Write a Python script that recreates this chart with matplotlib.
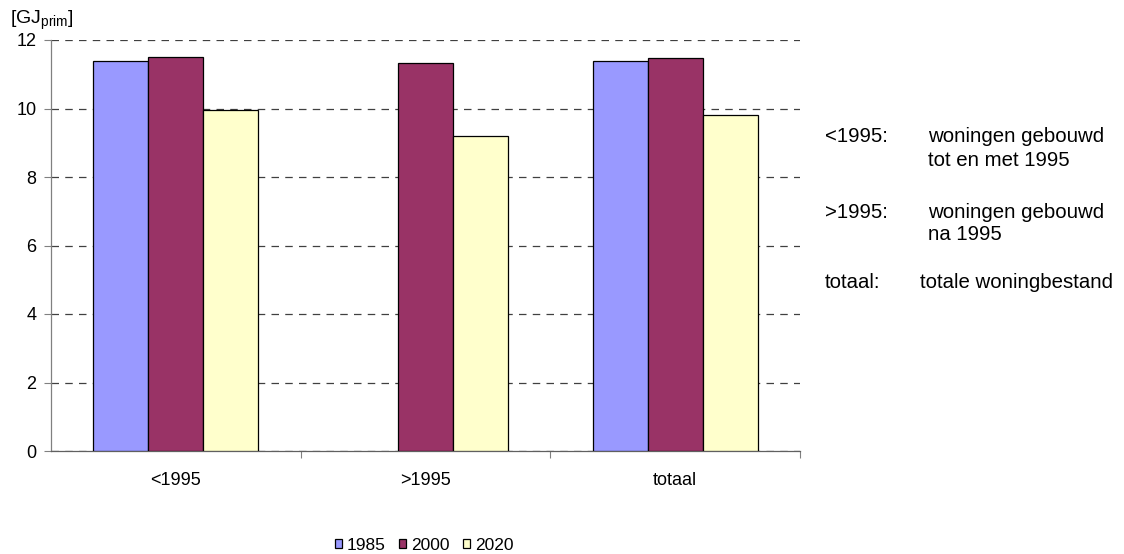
import matplotlib
matplotlib.use("Agg")
import matplotlib.pyplot as plt
import numpy as np

plt.rcParams['font.family'] = ['Liberation Sans', 'DejaVu Sans']

categories = ['<1995', '>1995', 'totaal']
years = ['1985', '2000', '2020']
values_1985 = [11.39, np.nan, 11.39]
values_2000 = [11.51, 11.32, 11.48]
values_2020 = [9.97, 9.19, 9.80]
series = [values_1985, values_2000, values_2020]
colors = ['#9999FF', '#993366', '#FFFFCC']

FS = 13
NOTE_FS = 14.7

fig = plt.figure(figsize=(11.24, 5.54), dpi=100)
ax = fig.add_axes([51 / 1124, 1 - 451 / 554, (800 - 51) / 1124, (451 - 40) / 554])

x = np.arange(len(categories))
width = 0.22
for i, (vals, col, yr) in enumerate(zip(series, colors, years)):
    ax.bar(x + (i - 1) * width, vals, width, color=col, edgecolor='black',
           linewidth=0.9, label=yr, zorder=3)

ax.set_xlim(-0.5, 2.5)
ax.set_ylim(0, 12)
ax.set_yticks(range(0, 13, 2))
ax.tick_params(axis='y', labelsize=FS, length=5, width=0.8, color='#808080', pad=5.5)
ax.set_xticks(x)
ax.set_xticklabels(categories, fontsize=FS)
ax.tick_params(axis='x', length=0, pad=15)
ax.set_xticks([0.5, 1.5, 2.5], minor=True)
ax.tick_params(axis='x', which='minor', length=5, width=0.8, color='#808080')

ax.yaxis.grid(True, linestyle=(0, (6, 5)), color='#404040', linewidth=0.9, zorder=0)
for s in ['top', 'right']:
    ax.spines[s].set_visible(False)
ax.spines['left'].set_color('#808080')
ax.spines['bottom'].set_color('#606060')
ax.spines['left'].set_linewidth(0.9)
ax.spines['bottom'].set_linewidth(0.9)

fig.text(10 / 1124, 1 - 20 / 554, '[GJ$_{\\mathregular{prim}}$]', fontsize=14, va='center')

# Explanation of the category labels, right of the plot
note_lines = [
    (825, 137, '<1995:'), (928, 137, 'woningen gebouwd'), (928, 160, 'tot en met 1995'),
    (825, 212, '>1995:'), (928, 212, 'woningen gebouwd'), (928, 235, 'na 1995'),
    (825, 282, 'totaal:'), (920, 282, 'totale woningbestand'),
]
for xp, yp, txt in note_lines:
    fig.text(xp / 1124, 1 - yp / 554, txt, fontsize=NOTE_FS, va='center')

fig.legend(loc='center', bbox_to_anchor=(424 / 1124, 1 - 545 / 554), ncol=3,
           frameon=False, fontsize=12.5, handlelength=0.42, handleheight=0.42,
           handletextpad=0.25, columnspacing=0.8, borderpad=0)

fig.savefig('out.png', dpi=100)
